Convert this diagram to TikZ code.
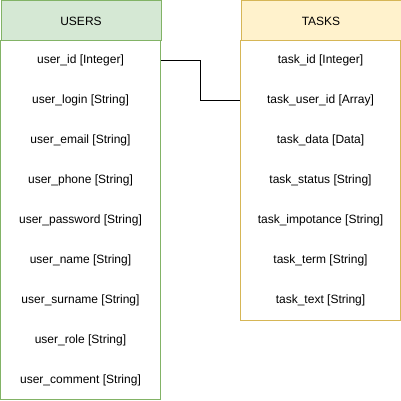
\documentclass[tikz,border=0pt]{standalone}
\usepackage{fontspec}
\setmainfont{Liberation Sans}
\usetikzlibrary{positioning}
\definecolor{usersfill}{HTML}{D5E8D4}
\definecolor{usersline}{HTML}{82B366}
\definecolor{tasksfill}{HTML}{FFF2CC}
\definecolor{tasksline}{HTML}{D6B656}
\begin{document}
\begin{tikzpicture}[x=1pt,y=1pt,
  tablehead/.style={draw, line width=1pt, minimum width=160pt, minimum height=40pt, inner sep=0pt, font=\fontsize{12}{14}\selectfont},
  field/.style={minimum width=160pt, minimum height=40pt, inner sep=0pt, font=\fontsize{12}{14}\selectfont}]
  \useasboundingbox (0,0) rectangle (401,-401);

  % USERS table
  \draw[usersline, line width=1pt] (0.5,-40.5) rectangle (160.5,-399.5);
  \node[tablehead, draw=usersline, fill=usersfill, anchor=north west] (users) at (0.5,-0.5) {USERS};
  \foreach \name [count=\i] in {{user\_id [Integer]}, {user\_login [String]}, {user\_email [String]},
      {user\_phone [String]}, {user\_password [String]}, {user\_name [String]},
      {user\_surname [String]}, {user\_role [String]}, {user\_comment [String]}} {
    \node[field] (user-\i) at (80.5, -20.5-40*\i) {\name};
  }

  % TASKS table
  \draw[tasksline, line width=1pt] (240.5,-40.5) rectangle (400.5,-320.5);
  \node[tablehead, draw=tasksline, fill=tasksfill, anchor=north west] (tasks) at (240.5,-0.5) {TASKS};
  \foreach \name [count=\i] in {{task\_id [Integer]}, {task\_user\_id [Array]}, {task\_data [Data]},
      {task\_status [String]}, {task\_impotance [String]}, {task\_term [String]},
      {task\_text [String]}} {
    \node[field] (task-\i) at (320.5, -20.5-40*\i) {\name};
  }

  % link user_id -> task_user_id
  \draw[line width=1pt] (user-1.east) -- ++(40,0) |- (task-2.west);
\end{tikzpicture}
\end{document}
